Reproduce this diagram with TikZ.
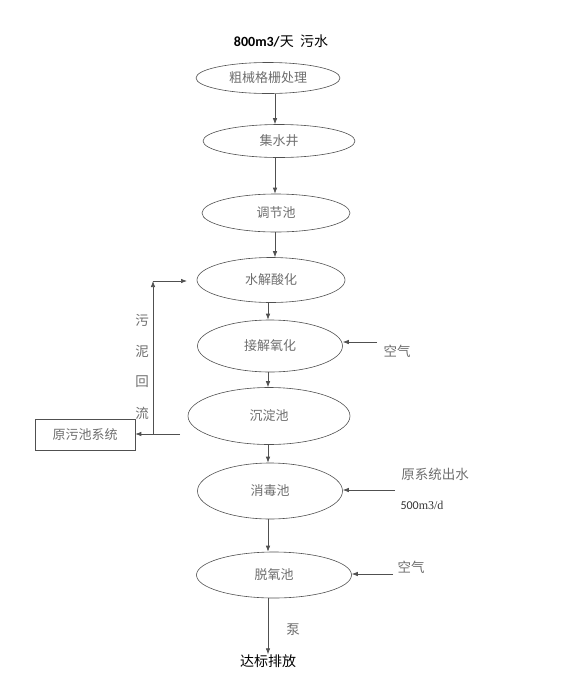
\documentclass[tikz,border=0pt]{standalone}
\usepackage{fontspec}
\setmainfont{Liberation Serif}
\newfontfamily\cjk{Noto Sans CJK SC}
\newfontfamily\lat{Carlito}
\usetikzlibrary{shapes.geometric,arrows.meta}
\definecolor{txtgray}{HTML}{6E6E6E}
\definecolor{linegray}{HTML}{505050}
\tikzset{
  pool/.style={ellipse,draw=linegray,line width=0.6pt,inner sep=0pt,font=\cjk\fontsize{13}{15}\selectfont,text=txtgray},
  arr/.style={draw=linegray,line width=0.7pt,-{Latex[length=6pt,width=4.5pt]}},
  lbl/.style={font=\cjk\fontsize{13.5}{15}\selectfont,text=txtgray,inner sep=0pt}
}
\begin{document}
\begin{tikzpicture}[x=1pt,y=-1pt]
\useasboundingbox (0,0) rectangle (563,697);
\node[font=\fontsize{14}{16}\selectfont,inner sep=0pt] (title) at (281,41) {{\lat\bfseries 800m3/}{\cjk 天\ \ 污水}};
\node[pool,minimum width=144pt,minimum height=31pt] (e1) at (268,78) {粗械格栅处理};
\node[pool,minimum width=152pt,minimum height=33pt] (e2) at (279,141) {集水井};
\node[pool,minimum width=148pt,minimum height=38pt] (e3) at (276,213) {调节池};
\node[pool,minimum width=148pt,minimum height=45pt] (e4) at (271,280) {水解酸化};
\node[pool,minimum width=145pt,minimum height=52pt] (e5) at (270,346) {接解氧化};
\node[pool,minimum width=162pt,minimum height=57pt] (e6) at (269,416) {沉淀池};
\node[pool,minimum width=145pt,minimum height=56pt] (e7) at (270,491) {消毒池};
\node[pool,minimum width=155pt,minimum height=46pt] (e8) at (274,575) {脱氧池};
\coordinate (ca) at (275,0);
\coordinate (cb) at (268,0);
\draw[arr] (e1.south -| ca) -- (e2.north -| ca);
\draw[arr] (e2.south -| ca) -- (e3.north -| ca);
\draw[arr] (e3.south -| ca) -- (e4.north -| ca);
\draw[arr] (e4.south -| cb) -- (e5.north -| cb);
\draw[arr] (e5.south -| cb) -- (e6.north -| cb);
\draw[arr] (e6.south -| cb) -- (e7.north -| cb);
\draw[arr] (e7.south -| cb) -- (e8.north -| cb);
\node[font=\cjk\fontsize{14}{16}\selectfont,inner sep=0pt] (out) at (268,661) {达标排放};
\draw[arr] (e8.south -| cb) -- (out.north -| cb);
\node[lbl] (pump) at (293,630) {泵};
% air inputs
\node[lbl] (air1) at (397,351) {空气};
\coordinate (a1) at (377,342);
\draw[arr] (a1) -- (e5.east |- a1);
\node[lbl] (src) at (435,474) {原系统出水};
\node[font=\fontsize{12}{14}\selectfont,text=black!80,inner sep=0pt] (flow) at (422,505) {{\lat 500}m3/d};
\coordinate (a2) at (395,490);
\draw[arr] (a2) -- (e7.east |- a2);
\node[lbl] (air2) at (411,567) {空气};
\coordinate (a3) at (393,574);
\draw[arr] (a3) -- (e8.east |- a3);
% sludge return
\node[draw=linegray,line width=0.6pt,minimum width=100pt,minimum height=31pt,inner sep=0pt,font=\cjk\fontsize{13}{15}\selectfont,text=txtgray] (box) at (85,434.5) {原污池系统};
\coordinate (s0) at (180,434);
\coordinate (s1) at (153,434);
\coordinate (s2) at (153,281);
\coordinate (s3) at (187,281);
\draw[arr] (s0) -- (box.east |- s0);
\draw[arr] (s1) -- (s2);
\draw[arr] (s2) -- (s3);
\node[lbl] (r1) at (142,320) {污};
\node[lbl] (r2) at (142,351) {泥};
\node[lbl] (r3) at (142,382) {回};
\node[lbl] (r4) at (142,413) {流};
\end{tikzpicture}
\end{document}
